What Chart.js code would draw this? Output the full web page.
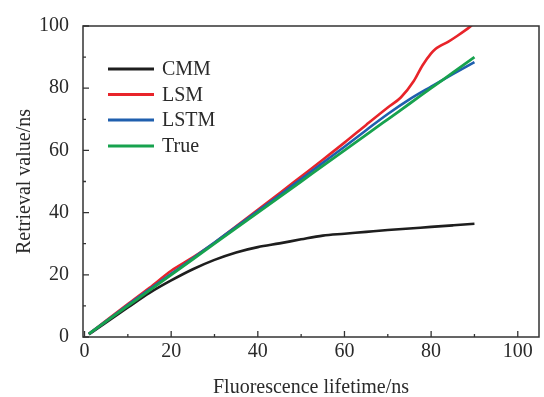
<!DOCTYPE html>
<html>
<head>
<meta charset="utf-8">
<script src="https://cdn.jsdelivr.net/npm/chart.js@4.4.1/dist/chart.umd.min.js"></script>
<style>
html,body{margin:0;padding:0;background:#fff;}
#wrap{width:544px;height:397px;position:relative;}
</style>
</head>
<body>
<div id="wrap"><canvas id="c" width="544" height="397"></canvas></div>
<script>
const xCommon = [1,5,10,15,20,25,30,35,40,45,50,55,60,65,70,75,80,85,90];
const cmmValues = [0.8,4.7,9.5,14.2,18.2,21.8,24.8,27.2,28.9,30.1,31.4,32.6,33.2,33.8,34.4,34.9,35.4,35.9,36.4];
const lstmValues = [1,5.1,10.3,15.3,20.3,25.3,30.4,35.4,40.5,45.6,50.8,56,61.2,66.5,71.7,76.4,80.5,84.5,88.4];
const trueValues = [1,5,10,15,20,25,30,35,40,45,50,55,60,65,70,75,80,85,90];
const xLsm = [1,5,10,15,20,25,30,35,40,45,50,55,60,65,70,73,76,78,80,81,82,84,86,89,90];
const lsmValues = [1,5.3,10.6,15.8,21.3,25.6,30.3,35.6,40.9,46.2,51.6,57,62.5,68.2,73.8,77,82.3,87.3,91.2,92.6,93.5,95,96.8,99.8,101];
const xTicks = [0,20,40,60,80,100];
const yTicks = [0,20,40,60,80,100];
const xMinor = [10,30,50,70,90];
const yMinor = [10,30,50,70,90];
const seriesNames = ['CMM','LSM','LSTM','True'];
const seriesColors = ['#1e1e1e','#e8242a','#1f5fae','#17a24e'];

const pair = (xs, ys) => xs.map((x,i)=>({x:x,y:ys[i]}));
const FONT = "'Liberation Serif','Times New Roman',serif";
const TEXT = '#2a2a2a';

const frameAndTicks = {
  id:'frameAndTicks',
  afterDatasetsDraw(chart){
    const {ctx, chartArea:a, scales:{x,y}} = chart;
    ctx.save();
    ctx.strokeStyle = '#333';
    ctx.lineWidth = 1.5;
    ctx.strokeRect(a.left, a.top, a.right-a.left, a.bottom-a.top);
    ctx.lineWidth = 1.3;
    ctx.beginPath();
    xTicks.forEach(v=>{const p=x.getPixelForValue(v); ctx.moveTo(p,a.bottom); ctx.lineTo(p,a.bottom-6);});
    xMinor.forEach(v=>{const p=x.getPixelForValue(v); ctx.moveTo(p,a.bottom); ctx.lineTo(p,a.bottom-3);});
    yTicks.forEach(v=>{const p=y.getPixelForValue(v); ctx.moveTo(a.left,p); ctx.lineTo(a.left+6,p);});
    yMinor.forEach(v=>{const p=y.getPixelForValue(v); ctx.moveTo(a.left,p); ctx.lineTo(a.left+3,p);});
    ctx.stroke();
    // legend
    const rows = [69,94.5,120,146];
    ctx.font = '20px ' + FONT;
    ctx.textBaseline = 'middle';
    ctx.textAlign = 'left';
    seriesNames.forEach((n,i)=>{
      ctx.strokeStyle = seriesColors[i];
      ctx.lineWidth = 2.8;
      ctx.beginPath();
      ctx.moveTo(108, rows[i]); ctx.lineTo(154, rows[i]);
      ctx.stroke();
      ctx.fillStyle = TEXT;
      ctx.fillText(n, 162, rows[i]+1);
    });
    ctx.restore();
  }
};

new Chart(document.getElementById('c'), {
  type:'line',
  data:{
    datasets:[
      {label:seriesNames[0], data:pair(xCommon,cmmValues), borderColor:seriesColors[0], borderWidth:2.6, order:3},
      {label:seriesNames[1], data:pair(xLsm,lsmValues), borderColor:seriesColors[1], borderWidth:2.6, order:2},
      {label:seriesNames[2], data:pair(xCommon,lstmValues), borderColor:seriesColors[2], borderWidth:2.6, order:1},
      {label:seriesNames[3], data:pair(xCommon,trueValues), borderColor:seriesColors[3], borderWidth:2.8, order:0}
    ]
  },
  options:{
    responsive:false,
    animation:false,
    events:[],
    layout:{padding:{top:19,right:5,left:13,bottom:0}},
    elements:{point:{radius:0}, line:{tension:0, cubicInterpolationMode:'monotone'}},
    plugins:{legend:{display:false}, tooltip:{enabled:false}},
    scales:{
      x:{
        type:'linear', min:-0.35, max:104.9,
        afterBuildTicks(s){ s.ticks = xTicks.map(v=>({value:v})); },
        afterFit(s){ s.height = 60; },
        grid:{display:false, drawTicks:false},
        border:{display:false},
        ticks:{color:TEXT, font:{family:FONT, size:20}, padding:3, maxRotation:0, autoSkip:false},
        title:{display:true, text:'Fluorescence lifetime/ns', color:TEXT, font:{family:FONT, size:20, lineHeight:1.0}, padding:{top:7,bottom:-1}}
      },
      y:{
        type:'linear', min:0, max:100,
        afterBuildTicks(s){ s.ticks = yTicks.map(v=>({value:v})); },
        afterFit(s){ s.width = 70; },
        grid:{display:false, drawTicks:false},
        border:{display:false},
        ticks:{color:TEXT, font:{family:FONT, size:20}, padding:14, autoSkip:false},
        title:{display:true, text:'Retrieval value/ns', color:TEXT, font:{family:FONT, size:20}, padding:{top:0,bottom:0}}
      }
    }
  },
  plugins:[frameAndTicks]
});
</script>
</body>
</html>
